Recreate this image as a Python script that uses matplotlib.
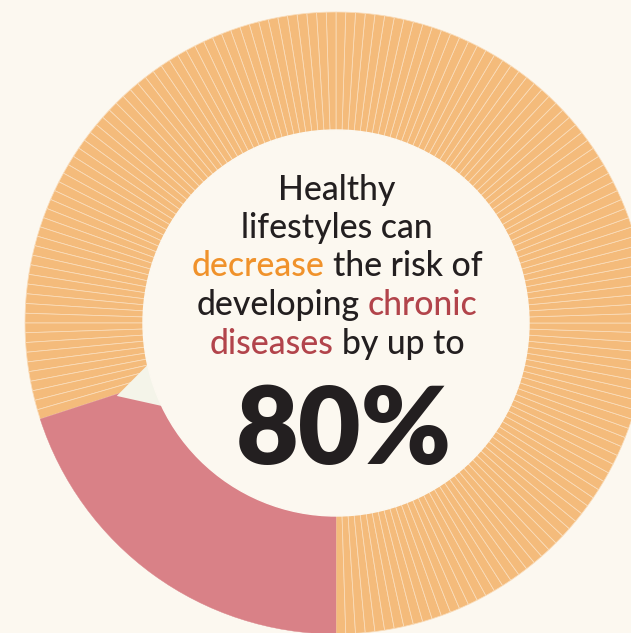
import matplotlib
matplotlib.use('Agg')
import matplotlib.pyplot as plt
from matplotlib.patches import Circle
import numpy as np

# data
shares = [80, 20]                 # healthy-lifestyle reduction vs rest
share_colors = ['#F4BB7B', '#D98187']
n_slices = 160                    # the 80% ring is cut into thin slices
big_number = '80%'

lines = [
    [('Healthy', '#231F20')],
    [('lifestyles can', '#231F20')],
    [('decrease', '#F0922B'), ('the risk of', '#231F20')],
    [('developing', '#231F20'), ('chronic', '#B2444B')],
    [('diseases', '#B2444B'), ('by up to', '#231F20')],
]

bg = '#FCF8F0'
W, H = 631, 633
cx, cy = 336, 633 - 323
r_out, r_in = 311, 193

fig = plt.figure(figsize=(W / 100, H / 100), dpi=100, facecolor=bg)
ax = fig.add_axes([0, 0, 1, 1])
ax.set_facecolor(bg)

vals = [shares[0] / n_slices] * n_slices + [shares[1]]
cols = [share_colors[0]] * n_slices + [share_colors[1]]
wedges, _ = ax.pie(vals, colors=cols, startangle=270, counterclock=True,
                   center=(cx, cy), radius=r_out,
                   wedgeprops=dict(edgecolor='#FADDBB', linewidth=0.55))
wedges[-1].set_edgecolor(share_colors[1])
wedges[-1].set_linewidth(0.3)

# small pale notch between the two parts
ang = np.radians([192.5, 198.4, 205.5])
rad = np.array([0.62, 0.743, 0.62]) * r_out
ax.fill(cx + rad * np.cos(ang), cy + rad * np.sin(ang), color='#F4F4E9', zorder=3, lw=0)

ax.add_patch(Circle((cx, cy), r_in, color=bg, zorder=4))

ax.set_xlim(0, W)
ax.set_ylim(0, H)
ax.axis('off')

# centre text, coloured words laid out by measuring them
font = 'Lato'
fs = 24.3
renderer = fig.canvas.get_renderer()
def width(t):
    return t.get_window_extent(renderer).width

sp = ax.text(0, 0, 'a a', fontsize=fs, family=font, weight='medium')
nsp = ax.text(0, 0, 'aa', fontsize=fs, family=font, weight='medium')
space = width(sp) - width(nsp)
sp.remove(); nsp.remove()

base_y = 633 - 199.5
step = 38.5
for i, parts in enumerate(lines):
    y = base_y - i * step
    objs = [ax.text(0, y, s, color=c, fontsize=fs, family=font, weight='medium',
                    va='baseline', ha='left', zorder=5) for s, c in parts]
    ws = [width(o) for o in objs]
    total = sum(ws) + space * (len(ws) - 1)
    x = 337 - total / 2
    for o, w in zip(objs, ws):
        o.set_x(x)
        x += w + space

ax.text(344, 633 - 464, big_number, fontsize=78, family=font, weight='heavy',
        color='#231F20', ha='center', va='baseline', zorder=5)

fig.savefig('out.png', dpi=100, facecolor=bg)
